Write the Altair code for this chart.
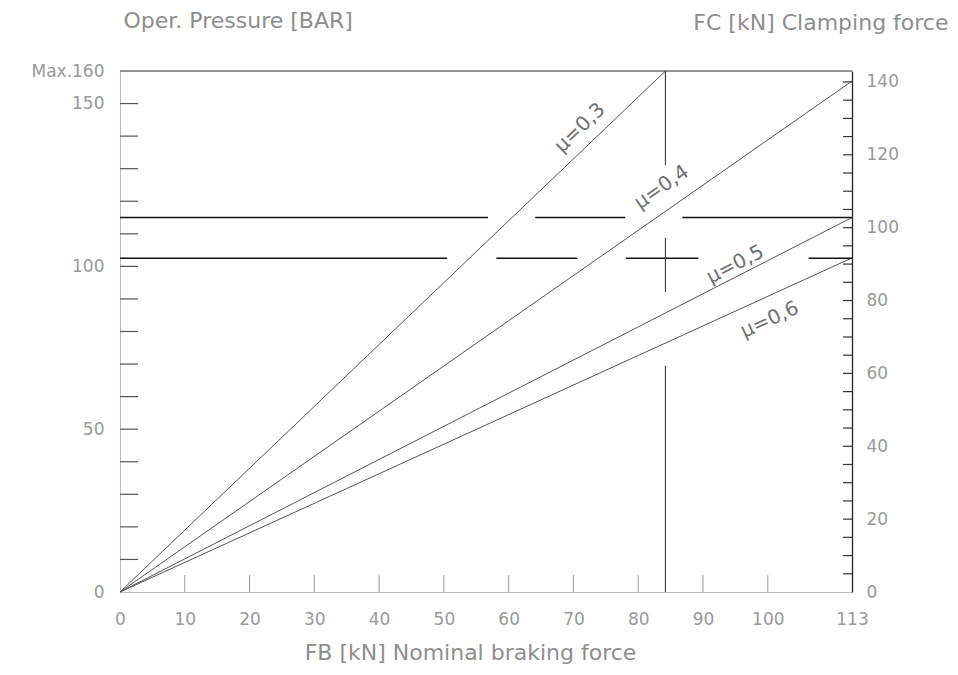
import altair as alt
import pandas as pd

# ---------------- data ----------------
fb_tick_labels = [0, 10, 20, 30, 40, 50, 60, 70, 80, 90, 100, 113]
fb_minor_ticks = [10, 20, 30, 40, 50, 60, 70, 80, 90, 100]
p_label_values = [0, 50, 100, 150, 160]
p_ticks = [10, 20, 30, 40, 50, 60, 70, 80, 90, 100, 110, 120, 130, 140, 150]
fc_label_values = [0, 20, 40, 60, 80, 100, 120, 140]
fc_ticks = [5, 10, 15, 20, 25, 30, 35, 40, 45, 50, 55, 60, 65, 70, 75, 80, 85,
            90, 95, 100, 105, 110, 115, 120, 125, 130, 135, 140]

mu_names = ["μ=0,3", "μ=0,4", "μ=0,5", "μ=0,6"]
mu_end_fb = [84.2, 113, 113, 113]
mu_end_p = [160, 156.9, 115, 102.6]
mu_label_fb = [71.0, 83.6, 95.0, 100.3]
mu_label_p = [142.5, 124.3, 100.6, 83.6]
mu_label_angle = [316, 325, 333, 335.5]

h_level = [115, 115, 115, 102.5, 102.5, 102.5, 102.5]
h_start = [0, 64.1, 86.8, 0, 58.1, 78.1, 106.3]
h_end = [56.8, 78.0, 113, 50.5, 70.6, 89.3, 113]

v_fb = [84.2, 84.2, 84.2]
v_start = [131.1, 92.1, 0]
v_end = [160, 108.7, 69.4]

frame_top_p = [160]
frame_x0 = [0]
frame_x1 = [113]

FONT = "DejaVu Sans"
W, H = 732, 521

# ---------------- tables ----------------
lines_rows = []
for name, efb, ep in zip(mu_names, mu_end_fb, mu_end_p):
    lines_rows.append({"mu": name, "fb": 0, "p": 0})
    lines_rows.append({"mu": name, "fb": efb, "p": ep})
lines_df = pd.DataFrame(lines_rows)
labels_df = pd.DataFrame({"mu": mu_names, "fb": mu_label_fb, "p": mu_label_p,
                          "angle": mu_label_angle})
h_df = pd.DataFrame({"p": h_level, "x0": h_start, "x1": h_end})
v_df = pd.DataFrame({"fb": v_fb, "p0": v_start, "p1": v_end})
top_df = pd.DataFrame({"p": frame_top_p, "x0": frame_x0, "x1": frame_x1})

xscale = alt.Scale(domain=[0, 113], nice=False, zero=True)
yscale = alt.Scale(domain=[0, 160], nice=False, zero=True)
rscale = alt.Scale(domain=[0, 143], nice=False, zero=True)

label_style = dict(labelFont=FONT, labelFontSize=17, labelColor="#999999",
                   titleFont=FONT, titleFontSize=22, titleColor="#8e8e8e",
                   titleFontWeight="normal", grid=False, ticks=False,
                   labelOverlap=False, labelFlush=False)

x_axis = alt.Axis(values=fb_tick_labels, orient="bottom", domainColor="#bdbdbd",
                  domainWidth=1.2, labelPadding=19,
                  title="FB [kN] Nominal braking force", titleX=350, titleY=60,
                  titleAlign="center", titleBaseline="middle", **label_style)
y_axis = alt.Axis(values=p_label_values, orient="left", domainColor="#bdbdbd",
                  domainWidth=1.2, labelPadding=16,
                  labelExpr="datum.value == 160 ? 'Max.160' : datum.label",
                  title="Oper. Pressure [BAR]", titleAngle=0, titleX=3,
                  titleY=-51, titleAlign="left", titleBaseline="middle",
                  **label_style)
r_axis = alt.Axis(values=fc_label_values, orient="right", domainColor="#222222",
                  domainWidth=1.3, labelPadding=14, labelAlign="left",
                  title="FC [kN] Clamping force", titleAngle=0, titleX=96,
                  titleY=-49, titleAlign="right", titleBaseline="middle",
                  **label_style)

X = lambda f: alt.X(f, scale=xscale, axis=x_axis)
Y = lambda f: alt.Y(f, scale=yscale, axis=y_axis)

# ---------------- left (pressure) layers ----------------
left_ticks = alt.Chart(pd.DataFrame({"p": p_ticks})).mark_rule(
    color="#555555", strokeWidth=1.2).encode(
    y=Y("p:Q"), x=alt.value(0), x2=alt.value(18))

bottom_ticks = alt.Chart(pd.DataFrame({"fb": fb_minor_ticks})).mark_rule(
    color="#9a9a9a", strokeWidth=1).encode(
    x=X("fb:Q"), y=alt.value(H), y2=alt.value(H - 17))

top_line = alt.Chart(top_df).mark_rule(color="#707070", strokeWidth=1.3).encode(
    x=X("x0:Q"), x2="x1:Q", y=Y("p:Q"))

mu_lines = alt.Chart(lines_df).mark_line(color="#555555", strokeWidth=1).encode(
    x=X("fb:Q"), y=Y("p:Q"), detail="mu:N")

h_lines = alt.Chart(h_df).mark_rule(color="#111111", strokeWidth=1.5).encode(
    x=X("x0:Q"), x2="x1:Q", y=Y("p:Q"))

v_lines = alt.Chart(v_df).mark_rule(color="#444444", strokeWidth=1.2).encode(
    x=X("fb:Q"), y=Y("p0:Q"), y2="p1:Q")

mu_text = alt.Chart(labels_df).mark_text(
    font=FONT, fontSize=20, color="#707070", align="center",
    baseline="middle").encode(
    x=X("fb:Q"), y=Y("p:Q"),
    angle=alt.Angle("angle:Q", scale=None),
    text="mu:N")

left = alt.layer(left_ticks, bottom_ticks, top_line, mu_lines, h_lines,
                 v_lines, mu_text)

# ---------------- right (clamping force) layer ----------------
right = alt.Chart(pd.DataFrame({"fc": fc_ticks})).mark_rule(
    color="#333333", strokeWidth=1.2).encode(
    y=alt.Y("fc:Q", scale=rscale, axis=r_axis),
    x=alt.value(W - 9), x2=alt.value(W))

chart = alt.layer(left, right).resolve_scale(y="independent").properties(
    width=W, height=H,
    autosize=alt.AutoSizeParams(type="none"),
    padding={"left": 120, "top": 71, "right": 106, "bottom": 83},
    background="white",
).configure_view(stroke=None)

chart.save("out.html", embed_options={"renderer": "svg", "actions": False})
